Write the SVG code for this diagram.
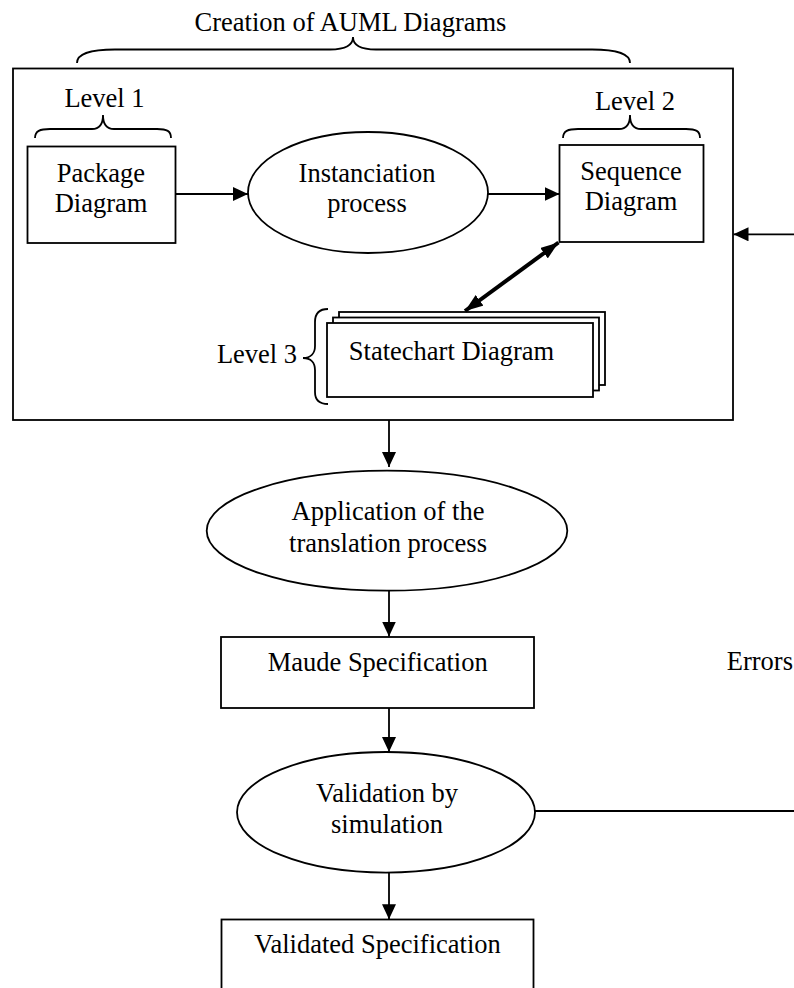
<svg xmlns="http://www.w3.org/2000/svg" width="794" height="988" viewBox="0 0 794 988">
  <style>
    .t { font-family: "Liberation Serif", "Times New Roman", serif; font-size: 26.5px; fill: #000; text-anchor: middle; }
    .s { fill: #fff; stroke: #000; stroke-width: 1.8; }
    .br { fill: none; stroke: #000; stroke-width: 1.8; }
    .ln { fill: none; stroke: #000; stroke-width: 1.8; }
  </style>
  <defs>
    <marker id="arr" viewBox="0 0 15 14" refX="15" refY="7" markerWidth="15" markerHeight="14" orient="auto" markerUnits="userSpaceOnUse">
      <path d="M0,0 L15,7 L0,14 z" fill="#000"/>
    </marker>
    <marker id="arrBold" viewBox="0 0 18 13" refX="18" refY="6.5" markerWidth="18" markerHeight="13" orient="auto-start-reverse" markerUnits="userSpaceOnUse">
      <path d="M0,0 L18,6.5 L0,13 z" fill="#000"/>
    </marker>
  </defs>

  <rect width="794" height="988" fill="#fff"/>

  <!-- outer frame: creation of AUML diagrams -->
  <g id="auml-frame">
    <text class="t" x="350.5" y="31">Creation of AUML Diagrams</text>
    <path class="br" d="M77,63 C77,53 92,49.5 115,49.5 L330,49.5 C345,49.5 353,45 353,37 C353,45 361,49.5 376,49.5 L592,49.5 C615,49.5 630,53 630,63"/>
    <rect x="13" y="68.5" width="720" height="351.5" fill="none" stroke="#000" stroke-width="1.8"/>
  </g>

  <g id="level1">
    <text class="t" x="104.5" y="107">Level 1</text>
    <path class="br" d="M35,138 C35,131 40,129 50,129 L92,129 C99,129 103,124 103,115 C103,124 107,129 114,129 L157,129 C167,129 171,131 171,138"/>
  </g>

  <g id="package-diagram">
    <rect class="s" x="27.5" y="146.5" width="148" height="96.5"/>
    <text class="t" x="101" y="182">Package</text>
    <text class="t" x="101" y="212">Diagram</text>
  </g>

  <g id="instanciation">
    <ellipse class="s" cx="368" cy="192.5" rx="120" ry="60.5"/>
    <text class="t" x="367" y="182">Instanciation</text>
    <text class="t" x="367" y="212">process</text>
  </g>

  <g id="level2">
    <text class="t" x="635" y="110">Level 2</text>
    <path class="br" d="M563,138 C563,131 568,129 578,129 L619,129 C626,129 630,124 630,115 C630,124 634,129 641,129 L686,129 C696,129 700,131 700,138"/>
  </g>

  <g id="sequence-diagram">
    <rect class="s" x="559.5" y="145" width="144" height="97"/>
    <text class="t" x="631" y="180">Sequence</text>
    <text class="t" x="631" y="210">Diagram</text>
  </g>

  <g id="level3">
    <text class="t" x="257" y="363">Level 3</text>
    <path class="br" d="M328,309 C319,309 315,314 315,322 L315,346 C315,353 311,358 303,358 C311,358 315,363 315,370 L315,392 C315,400 319,404 328,404"/>
  </g>

  <g id="statechart-diagram">
    <rect class="s" x="339" y="312" width="266" height="73"/>
    <rect class="s" x="333" y="317.5" width="266" height="73"/>
    <rect class="s" x="327" y="323" width="266" height="74"/>
    <text class="t" x="451.5" y="360">Statechart Diagram</text>
  </g>

  <g id="translation">
    <ellipse class="s" cx="387" cy="530.7" rx="180.3" ry="60"/>
    <text class="t" x="388" y="520">Application of the</text>
    <text class="t" x="388" y="551.7">translation process</text>
  </g>

  <g id="maude-specification">
    <rect class="s" x="221" y="637" width="313" height="71"/>
    <text class="t" x="377.7" y="670.7">Maude Specification</text>
  </g>

  <g id="errors-label">
    <text class="t" x="793" y="670" style="text-anchor:end">Errors</text>
  </g>

  <g id="validation">
    <ellipse class="s" cx="386" cy="812.3" rx="149" ry="60.3"/>
    <text class="t" x="387" y="801.7">Validation by</text>
    <text class="t" x="387" y="833">simulation</text>
  </g>

  <g id="validated-specification">
    <rect class="s" x="221.5" y="919.5" width="312" height="80"/>
    <text class="t" x="377.5" y="953.3">Validated Specification</text>
  </g>

  <!-- connectors -->
  <g id="connectors">
    <line class="ln" x1="176" y1="194" x2="248" y2="194" marker-end="url(#arr)"/>
    <line class="ln" x1="488" y1="194" x2="559.5" y2="194" marker-end="url(#arr)"/>
    <line x1="465" y1="311" x2="558.5" y2="242.5" stroke="#000" stroke-width="4" marker-start="url(#arrBold)" marker-end="url(#arrBold)"/>
    <line class="ln" x1="794" y1="234.3" x2="733.5" y2="234.3" marker-end="url(#arr)"/>
    <line class="ln" x1="389" y1="420" x2="389" y2="467" marker-end="url(#arr)"/>
    <line class="ln" x1="389" y1="591" x2="389" y2="636.5" marker-end="url(#arr)"/>
    <line class="ln" x1="389" y1="708" x2="389" y2="752" marker-end="url(#arr)"/>
    <line class="ln" x1="389" y1="872.6" x2="389" y2="919.3" marker-end="url(#arr)"/>
    <line class="ln" x1="535" y1="811" x2="794" y2="811"/>
  </g>
</svg>
